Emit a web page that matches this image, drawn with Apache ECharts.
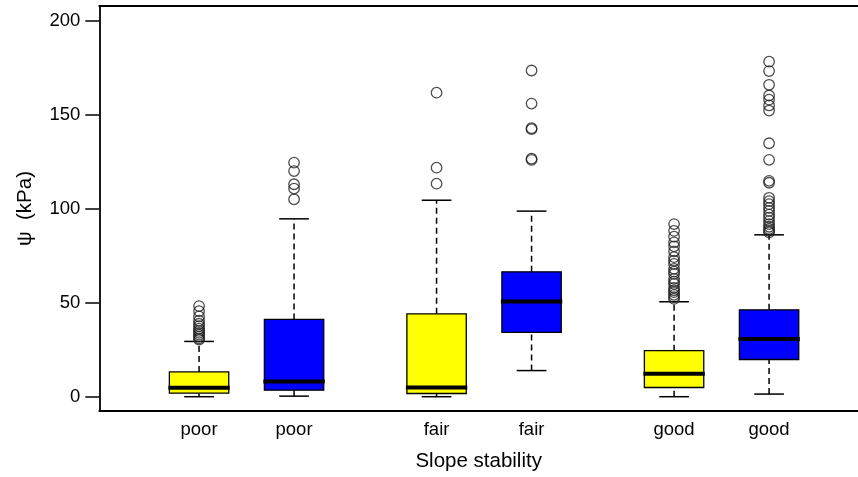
<!DOCTYPE html>
<html>
<head>
<meta charset="utf-8">
<script src="https://cdn.jsdelivr.net/npm/echarts@6/dist/echarts.min.js"></script>
<style>
html,body{margin:0;padding:0;background:#fff;}
#chart{width:858px;height:477px;}
</style>
</head>
<body>
<div id="chart"></div>
<script>
// ---- data ----
const categories = ['poor', 'poor', 'fair', 'fair', 'good', 'good'];
const xPositions = [1, 2, 3.5, 4.5, 6, 7];
const lowerWhisker = [0, 0.3, 0, 13.9, 0, 1.4];
const q1 = [1.9, 3.5, 1.7, 34.2, 4.9, 19.8];
const median = [4.8, 8.1, 4.9, 50.6, 12.2, 30.7];
const q3 = [13.2, 41.1, 44.1, 66.4, 24.5, 46.2];
const upperWhisker = [29.4, 94.6, 104.5, 98.7, 50.5, 86.1];
const outliersPoor1 = [48.2, 45.5, 42.7, 40.4, 38.8, 37.5, 36.2, 35.0, 34.0, 33.0, 32.0, 31.0, 30.4];
const outliersPoor2 = [124.5, 120.0, 113.0, 110.7, 105.0];
const outliersFair1 = [161.7, 121.8, 113.3];
const outliersFair2 = [173.5, 155.9, 142.8, 142.3, 126.6, 126.0];
const outliersGood1 = [91.8, 88.2, 85.1, 82.1, 80.0, 77.3, 74.2, 72.3, 70.6, 68.0, 66.5, 65.3, 62.7, 61.2, 60.0, 57.9, 56.6, 55.6, 54.2, 53.0, 52.0];
const outliersGood2 = [178.2, 173.2, 165.9, 160.2, 158.0, 154.9, 152.2, 134.8, 126.0, 114.8, 113.8, 105.8, 104.0, 102.4, 100.4, 98.8, 96.8, 95.2, 93.4, 91.8, 90.4, 89.2, 88.2, 87.4];
const outliers = [outliersPoor1, outliersPoor2, outliersFair1, outliersFair2, outliersGood1, outliersGood2];
const yTicks = [0, 50, 100, 150, 200];

// ---- styles ----
const boxFill = ['#FFFF00', '#0000FF'];
const boxWidthUnits = 0.625;

const boxData = categories.map((c, i) => [xPositions[i], lowerWhisker[i], q1[i], median[i], q3[i], upperWhisker[i], i]);
const outlierData = [];
outliers.forEach((arr, i) => arr.forEach(v => outlierData.push([xPositions[i], v])));

const chart = echarts.init(document.getElementById('chart'), null, {renderer: 'canvas'});

function renderBox(params, api) {
  const x = api.value(0);
  const lo = api.coord([x, api.value(1)]);
  const b1 = api.coord([x, api.value(2)]);
  const md = api.coord([x, api.value(3)]);
  const b3 = api.coord([x, api.value(4)]);
  const hi = api.coord([x, api.value(5)]);
  const idx = api.value(6);
  const bw = api.size([boxWidthUnits, 0])[0];
  const cx = lo[0];
  const half = bw / 2;
  const capHalf = bw / 4;
  const lineStyle = {stroke: '#000', lineWidth: 1.5};
  const dashStyle = {stroke: '#000', lineWidth: 1.5, lineDash: [6, 4]};
  return {
    type: 'group',
    children: [
      {type: 'line', shape: {x1: cx, y1: b3[1], x2: cx, y2: hi[1]}, style: dashStyle},
      {type: 'line', shape: {x1: cx, y1: lo[1], x2: cx, y2: b1[1]}, style: dashStyle},
      {type: 'line', shape: {x1: cx - capHalf, y1: hi[1], x2: cx + capHalf, y2: hi[1]}, style: lineStyle},
      {type: 'line', shape: {x1: cx - capHalf, y1: lo[1], x2: cx + capHalf, y2: lo[1]}, style: lineStyle},
      {type: 'rect', shape: {x: cx - half, y: b3[1], width: bw, height: b1[1] - b3[1]},
        style: {fill: boxFill[idx % 2], stroke: '#000', lineWidth: 1.3}},
      {type: 'line', shape: {x1: cx - half - 1, y1: md[1], x2: cx + half + 1, y2: md[1]},
        style: {stroke: '#000', lineWidth: 4}}
    ]
  };
}

const axisLineStyle = {color: '#000', width: 1.8};

const option = {
  backgroundColor: '#fff',
  animation: false,
  grid: {left: 99.3, top: 6, bottom: 64.3, right: 0, show: false},
  xAxis: [{
    type: 'value', min: -0.05, max: 7.936, position: 'bottom',
    name: 'Slope stability', nameLocation: 'middle', nameGap: 40,
    nameTextStyle: {fontFamily: 'Liberation Sans', fontSize: 20.5, color: '#000'},
    axisLine: {show: true, onZero: false, lineStyle: axisLineStyle},
    axisTick: {show: false},
    splitLine: {show: false},
    axisLabel: {
      customValues: xPositions,
      formatter: function (v) { const i = xPositions.indexOf(v); return i >= 0 ? categories[i] : ''; },
      fontFamily: 'Liberation Sans', fontSize: 18.5, color: '#000', margin: 9
    }
  }, {
    type: 'value', min: -0.05, max: 7.936, position: 'top',
    axisLine: {show: true, onZero: false, lineStyle: axisLineStyle},
    axisTick: {show: false}, axisLabel: {show: false}, splitLine: {show: false}
  }],
  yAxis: {
    type: 'value', min: -7.6, max: 207.8,
    name: 'ψ  (kPa)', nameLocation: 'middle', nameGap: 63, nameRotate: 90,
    nameTextStyle: {fontFamily: 'Liberation Sans', fontSize: 20.5, color: '#000'},
    axisLine: {show: true, onZero: false, lineStyle: axisLineStyle},
    axisTick: {show: true, customValues: yTicks, length: 14, inside: false, lineStyle: {color: '#000', width: 1.5}},
    splitLine: {show: false},
    axisLabel: {customValues: yTicks, fontFamily: 'Liberation Sans', fontSize: 18.5, color: '#000', margin: 19}
  },
  series: [
    {
      type: 'custom',
      renderItem: renderBox,
      data: boxData,
      xAxisIndex: 0,
      encode: {x: 0, y: [1, 2, 3, 4, 5]},
      z: 2
    },
    {
      type: 'scatter',
      data: outlierData,
      xAxisIndex: 0,
      symbol: 'circle',
      symbolSize: 10.5,
      itemStyle: {color: 'rgba(0,0,0,0)', borderColor: '#222', borderWidth: 1.3},
      z: 3
    }
  ]
};
chart.setOption(option);
</script>
</body>
</html>
